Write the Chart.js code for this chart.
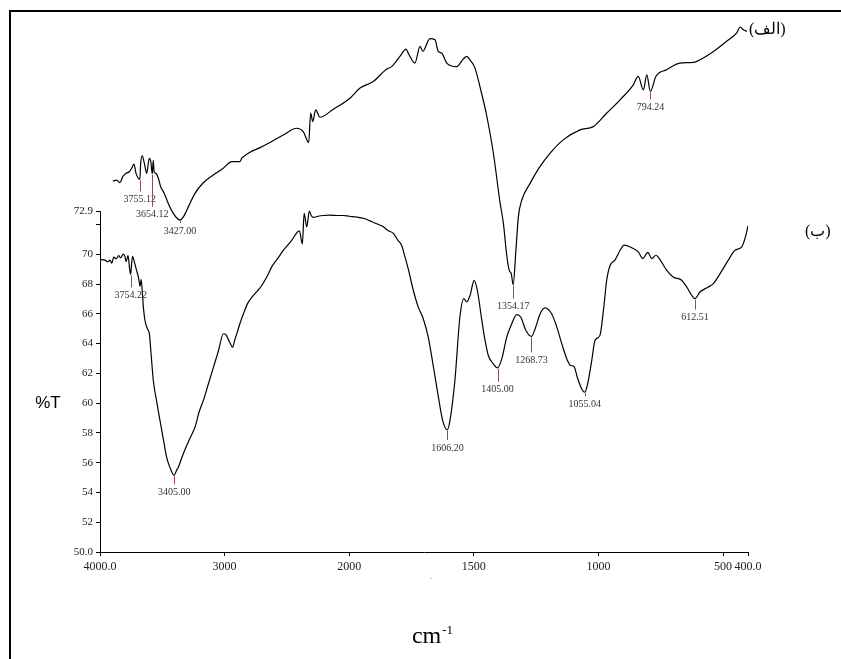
<!DOCTYPE html>
<html>
<head>
<meta charset="utf-8">
<script src="https://cdn.jsdelivr.net/npm/chart.js@4.4.1/dist/chart.umd.min.js"></script>
<style>
  html, body { margin: 0; padding: 0; background: #fff; }
  #wrap { position: relative; width: 841px; height: 659px; }
  #frame {
    position: absolute; left: 9px; top: 10px; right: 0; bottom: 0;
    border-left: 2px solid #000; border-top: 2px solid #000;
    pointer-events: none;
  }
</style>
</head>
<body>
<div id="wrap"><canvas id="ir"></canvas><div id="frame"></div></div>
<script>
// spectrum (ب) — wavenumber (cm-1) and %T
const wavenumbersB = [
  4000, 3960, 3935, 3920, 3905, 3890, 3870, 3850, 3835, 3813,
  3800, 3791, 3775, 3762, 3754.22, 3745, 3738, 3725, 3706, 3690,
  3679, 3670, 3660, 3652, 3639, 3620, 3604, 3590, 3572, 3545,
  3518, 3490, 3465, 3440, 3405, 3385, 3371, 3345, 3317, 3280,
  3237, 3205, 3170, 3130, 3090, 3050, 3010, 2990, 2960, 2935,
  2920, 2902, 2875, 2849, 2815, 2782, 2740, 2702, 2660, 2622,
  2575, 2528, 2465, 2400, 2376, 2362, 2341, 2320, 2305, 2288,
  2250, 2207, 2150, 2100, 2047, 2000,
  1970, 1940, 1917, 1890, 1863, 1845, 1823, 1805, 1790, 1776,
  1763, 1743, 1723, 1703, 1683, 1662, 1642, 1625, 1606.2, 1596,
  1576, 1556, 1540, 1529, 1515, 1499, 1486, 1468, 1455, 1442,
  1422, 1405, 1388, 1368, 1348, 1328, 1312, 1291, 1268.73, 1254,
  1234, 1215, 1188, 1167, 1147, 1127, 1111, 1098, 1085, 1067,
  1055.04, 1045, 1027, 1014, 994, 980, 967, 953, 934, 913,
  897, 860, 840, 822, 802, 786, 769, 756, 726, 700,
  666, 646, 612.51, 593, 559, 539, 512, 479, 452, 425,
  412, 400
];
const transmittanceB = [
  69.64, 69.6, 69.5, 69.6, 69.4, 69.8, 69.7, 69.9, 69.75, 70.0,
  69.85, 69.5, 69.9, 69.0, 68.65, 69.5, 69.85, 69.5, 68.9, 68.4,
  67.85, 68.3, 67.4, 66.45, 65.55, 65.0, 64.67, 63.3, 61.5, 60.1,
  58.8, 57.5, 56.35, 55.7, 55.15, 55.5, 55.7, 56.3, 56.9, 57.6,
  58.4, 59.4, 60.2, 61.3, 62.4, 63.5, 64.66, 64.6, 64.1, 63.76,
  64.2, 64.67, 65.4, 66.0, 66.7, 67.1, 67.5, 67.9, 68.5, 69.15,
  69.7, 70.27, 70.9, 71.57, 70.7, 72.74, 71.84, 72.9, 72.6, 72.47,
  72.55, 72.6, 72.62, 72.6, 72.6, 72.55,
  72.5, 72.4, 72.24, 72.05, 71.84, 71.6, 71.4, 70.95, 70.6, 69.8,
  69.0, 67.58, 66.45, 65.67, 64.43, 62.41, 60.39, 58.82, 58.2, 58.82,
  61.52, 65.78, 67.02, 66.79, 67.24, 68.25, 67.58, 65.56, 64.21, 63.2,
  62.64, 62.37, 62.97, 64.43, 65.33, 65.94, 65.78, 64.88, 64.48, 65.0,
  66.0, 66.39, 66.0, 65.1, 63.98, 62.97, 62.53, 62.46, 61.74, 60.95,
  60.73, 61.18, 62.86, 64.21, 64.55, 66.23, 68.25, 69.26, 69.6, 70.27,
  70.61, 70.38, 70.16, 69.71, 70.12, 69.71, 69.93, 69.71, 68.92, 68.47,
  68.25, 67.8, 67.02, 67.46, 67.8, 68.03, 68.7, 69.6, 70.27, 70.49,
  71.06, 71.9
];

// spectrum (الف) — offset trace drawn above (ب)
const wavenumbersA = [
  3976, 3944, 3917, 3895, 3868, 3841, 3822, 3803, 3786, 3755.12,
  3748, 3735, 3718, 3699, 3678, 3665, 3654.12, 3645, 3639, 3623,
  3604, 3585, 3558, 3523, 3482, 3449, 3427, 3400, 3359, 3305,
  3237, 3155, 3074, 3005, 2937, 2924, 2910, 2856, 2774, 2693,
  2584, 2475, 2421, 2377, 2361, 2344, 2320, 2285, 2176, 2040,
  1979, 1925, 1870, 1850, 1816, 1791, 1782, 1755, 1734, 1723,
  1694, 1673, 1660, 1646, 1625, 1585, 1558, 1544, 1533, 1510,
  1490, 1462, 1435, 1408, 1394, 1381, 1370, 1362, 1354.17, 1343,
  1333, 1319, 1285, 1245, 1204, 1150, 1081, 1027, 973, 918,
  864, 844, 823, 809, 794.24, 772, 728, 674, 619, 592,
  537, 483, 442, 428, 415, 401
];
const transmittanceA = [
  74.92, 74.98, 74.8, 75.2, 75.43, 75.54, 75.77, 76.06, 75.43, 75.03,
  76.1, 76.6, 76.1, 75.43, 76.44, 76.2, 75.4, 76.3, 75.54, 75.43,
  75.1, 74.53, 74.13, 73.41, 72.74, 72.4, 72.29, 72.51, 73.18, 74.09,
  74.8, 75.32, 75.77, 76.22, 76.22, 76.44, 76.55, 76.85, 77.16, 77.5,
  78.01, 78.46, 78.24, 77.5, 79.47, 78.91, 79.7, 79.2, 79.74, 80.48,
  81.16, 81.6, 82.44, 82.6, 83.29, 83.78, 83.5, 82.84, 83.96, 83.62,
  84.48, 84.41, 83.62, 83.51, 82.84, 82.6, 83.1, 83.29, 83.1, 82.5,
  81.27, 79.3, 76.8, 73.5, 72.07, 70.0, 68.9, 68.7, 67.95, 70.27,
  72.51, 73.64, 74.76, 75.88, 76.78, 77.68, 78.35, 78.57, 79.47, 80.37,
  81.38, 81.94, 81.04, 82.05, 80.93, 81.94, 82.39, 82.84, 82.88, 83.06,
  83.62, 84.3, 84.86, 85.26, 85.08, 84.97
];

const peaksA = [3755.12, 3654.12, 3427.0, 1354.17, 794.24];
const peaksB = [3754.22, 3405.0, 1606.2, 1405.0, 1268.73, 1055.04, 612.51];

const xTicks = [4000, 3000, 2000, 1500, 1000, 500, 400];
const xTickLabels = ["4000.0", "3000", "2000", "1500", "1000", "500", "400.0"];
const yTicks = [50, 52, 54, 56, 58, 60, 62, 64, 66, 68, 70, 72, 72.9];
const yTickLabels = ["50.0", "52", "54", "56", "58", "60", "62", "64", "66", "68", "70", "", "72.9"];

// marker stem lengths under each peak label (px)
const stemA = [11, 32, 2, 13, 7];
const stemB = [12, 8, 9, 13, 15, 3, 10];

const SERIF = "'Liberation Serif', 'Times New Roman', serif";

// IR chart axis: scale doubles below 2000 cm-1
const splitPos = (w) => (w >= 2000 ? 4000 - w : 2000 + 2 * (2000 - w));
const splitInv = (p) => (p <= 2000 ? 4000 - p : 2000 - (p - 2000) / 2);

class SplitScale extends Chart.LinearScale {
  getPixelForValue(value) {
    if (value === null || value === undefined || isNaN(value)) return NaN;
    const a = splitPos(this.max);
    const b = splitPos(this.min);
    return this.getPixelForDecimal((splitPos(value) - a) / (b - a));
  }
  getValueForPixel(pixel) {
    const a = splitPos(this.max);
    const b = splitPos(this.min);
    return splitInv(a + this.getDecimalForPixel(pixel) * (b - a));
  }
}
SplitScale.id = "irsplit";
SplitScale.defaults = Chart.LinearScale.defaults;
Chart.register(SplitScale);

const toPoints = (xs, ys) => xs.map((x, i) => ({ x, y: ys[i] }));

function drawPeaks(chart, dsIndex, peaks, stems) {
  const ctx = chart.ctx;
  const meta = chart.getDatasetMeta(dsIndex);
  const data = chart.data.datasets[dsIndex].data;
  peaks.forEach((w, i) => {
    const k = data.findIndex((p) => p.x === w);
    if (k < 0) return;
    const pt = meta.data[k];
    const x = Math.round(pt.x) + 0.5;
    const y0 = pt.y + 1;
    const y1 = y0 + stems[i];
    ctx.strokeStyle = "#8b5050";
    ctx.lineWidth = 1;
    ctx.beginPath();
    ctx.moveTo(x, y0);
    ctx.lineTo(x, y1);
    ctx.stroke();
    ctx.fillStyle = "#333";
    ctx.font = "10px " + SERIF;
    ctx.textAlign = "center";
    ctx.textBaseline = "top";
    ctx.fillText(w.toFixed(2), pt.x, y1 + 3);
  });
}

const annotations = {
  id: "annotations",
  afterDraw(chart) {
    const { ctx, chartArea, scales } = chart;
    const y = scales.y;
    ctx.save();

    // y axis line only over the labelled range
    const ax = Math.round(chartArea.left) + 0.5;
    ctx.strokeStyle = "#000";
    ctx.lineWidth = 1;
    ctx.beginPath();
    ctx.moveTo(ax, y.getPixelForValue(yTicks[0]));
    ctx.lineTo(ax, y.getPixelForValue(yTicks[yTicks.length - 1]));
    ctx.stroke();

    drawPeaks(chart, 0, peaksB, stemB);
    drawPeaks(chart, 1, peaksA, stemA);

    // axis titles
    ctx.fillStyle = "#000";
    ctx.font = "17px 'Liberation Sans', Arial, sans-serif";
    ctx.textAlign = "center";
    ctx.textBaseline = "middle";
    ctx.fillText("%T", chartArea.left - 52, y.getPixelForValue(60));

    ctx.fillStyle = "#555";
    ctx.font = "8px " + SERIF;
    ctx.fillText(".", (chartArea.left + chartArea.right) / 2 + 7, chartArea.bottom + 25);

    ctx.fillStyle = "#000";
    ctx.textAlign = "left";
    ctx.textBaseline = "alphabetic";
    ctx.font = "24px " + SERIF;
    const cw = ctx.measureText("cm").width;
    ctx.font = "13px " + SERIF;
    const sw = ctx.measureText("-1").width;
    const cx = (chartArea.left + chartArea.right) / 2 + 8 - (cw + sw) / 2;
    const base = chartArea.bottom + 91;
    ctx.font = "24px " + SERIF;
    ctx.fillText("cm", cx, base);
    ctx.font = "13px " + SERIF;
    ctx.fillText("-1", cx + cw + 1, base - 9);

    // trace labels
    ctx.direction = "rtl";
    ctx.textAlign = "left";
    ctx.textBaseline = "middle";
    ctx.font = "16px " + SERIF;
    ctx.fillText("(الف)", chartArea.right + 1, chartArea.top + 14);
    ctx.fillText("(ب)", chartArea.right + 57, chartArea.top + 216);

    ctx.restore();
  }
};

new Chart(document.getElementById("ir"), {
  type: "line",
  data: {
    datasets: [
      {
        label: "ب",
        data: toPoints(wavenumbersB, transmittanceB),
        xAxisID: "x",
        yAxisID: "y",
        borderColor: "#000",
        borderWidth: 1.2,
        pointRadius: 0,
        cubicInterpolationMode: "monotone",
        fill: false
      },
      {
        label: "الف",
        data: toPoints(wavenumbersA, transmittanceA),
        xAxisID: "x2",
        yAxisID: "y",
        borderColor: "#000",
        borderWidth: 1.2,
        pointRadius: 0,
        cubicInterpolationMode: "monotone",
        fill: false
      }
    ]
  },
  options: {
    responsive: true,
    maintainAspectRatio: false,
    animation: false,
    layout: { padding: { top: 16, right: 93, bottom: 77, left: 0 } },
    plugins: {
      legend: { display: false },
      tooltip: { enabled: false }
    },
    scales: {
      x: {
        type: "irsplit",
        min: 400,
        max: 4000,
        afterFit: (s) => { s.height = 30; },
        afterBuildTicks: (s) => { s.ticks = xTicks.map((v) => ({ value: v })); },
        border: { display: true, color: "#000", width: 1 },
        grid: { drawOnChartArea: false, drawTicks: true, tickLength: 4, tickColor: "#000" },
        ticks: {
          autoSkip: false,
          maxRotation: 0,
          padding: 4,
          color: "#222",
          font: { family: SERIF, size: 12 },
          callback: (v, i) => xTickLabels[i]
        }
      },
      x2: {
        type: "irsplit",
        display: false,
        min: 396,
        max: 4080
      },
      y: {
        type: "linear",
        min: 50,
        max: 86,
        afterFit: (s) => { s.width = 100; },
        afterBuildTicks: (s) => { s.ticks = yTicks.map((v) => ({ value: v })); },
        border: { display: false },
        grid: { drawOnChartArea: false, drawTicks: true, tickLength: 4, tickColor: "#000" },
        ticks: {
          padding: 3,
          color: "#222",
          font: { family: SERIF, size: 11 },
          callback: (v, i) => yTickLabels[i]
        }
      }
    }
  },
  plugins: [annotations]
});
</script>
</body>
</html>
